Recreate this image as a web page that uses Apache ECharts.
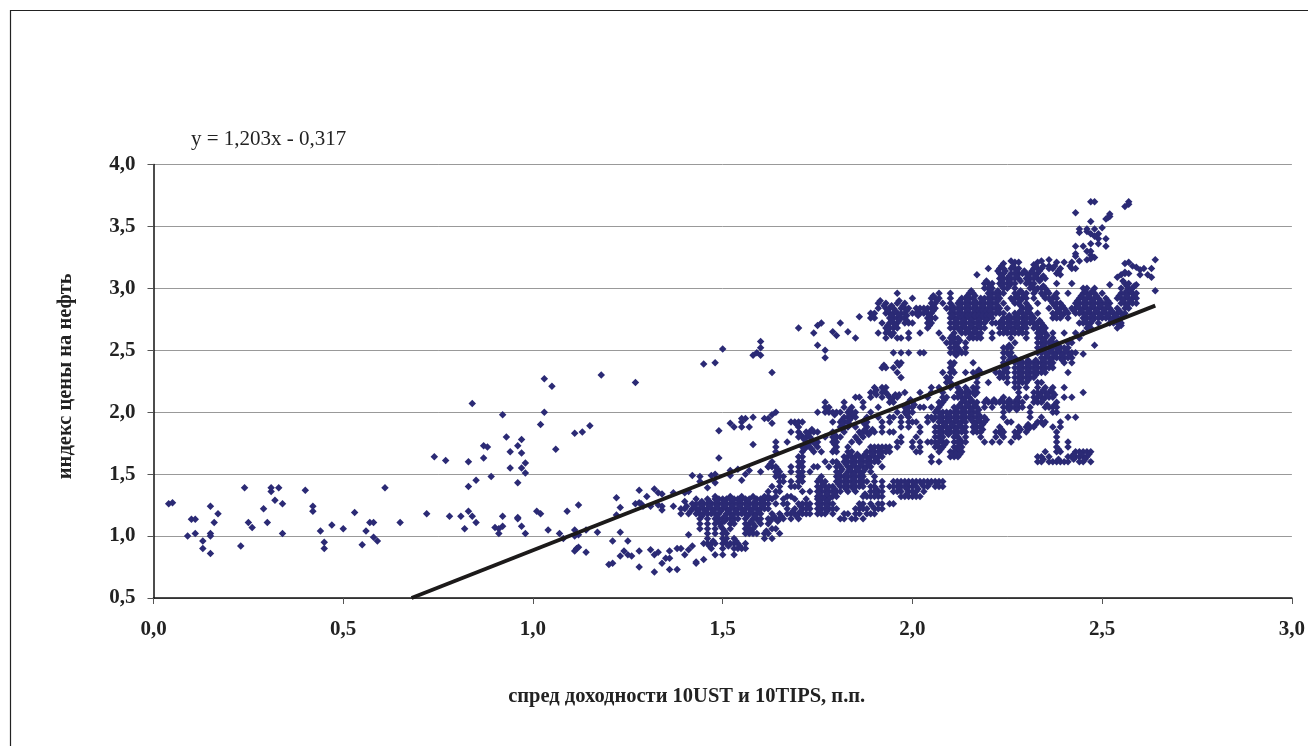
<!DOCTYPE HTML>
<html>

<head>
  <title>спред доходности</title>
  <meta charset="utf-8" />
  <style>
    html, body { margin: 0; padding: 0; background: #fff; }
  </style>
</head>

<body>
  <div id="main" style="width:1308px;height:746px;"></div>

  <script type="text/javascript" src="https://cdn.jsdelivr.net/npm/echarts@6/dist/echarts.min.js"></script>
  <script type="text/javascript">
    var yTicks = ['0,5', '1,0', '1,5', '2,0', '2,5', '3,0', '3,5', '4,0'];
    var xTicks = ['0,0', '0,5', '1,0', '1,5', '2,0', '2,5', '3,0'];
    var trendX = [0.68, 2.64];
    var trendY = [0.5, 2.86];

    // single points: [x, y]
    var sparseLeft = [
      [.04,1.26],[.05,1.27],[.09,1.0],[.10,1.135],[.11,1.135],[.11,1.02],[.13,.96],[.13,.90],[.15,1.24],[.15,1.02],
      [.15,1.0],[.15,.86],[.16,1.11],[.17,1.18],[.23,.92],[.24,1.39],[.25,1.11],[.26,1.07],[.29,1.22],[.30,1.11],
      [.31,1.39],[.31,1.36],[.32,1.29],[.33,1.39],[.34,1.26],[.34,1.02],[.40,1.37],[.42,1.24],[.42,1.2],[.44,1.04],
      [.45,.95],[.45,.90],[.47,1.09],[.50,1.06],[.53,1.19],[.55,.93],[.56,1.04],[.57,1.11],[.58,1.11],[.58,.99],
      [.59,.96],[.61,1.39],[.65,1.11],[.72,1.18],[.74,1.64],[.77,1.61],[.78,1.16],[.81,1.16],[.82,1.06],[.83,1.2],
      [.83,1.60],[.83,1.40],[.84,1.16],[.84,2.07],[.85,1.11],[.85,1.45],[.87,1.73],[.87,1.63],[.88,1.72],[.89,1.48],
      [.90,1.07],[.91,1.06],[.91,1.02],[.92,1.98],[.92,1.16],[.92,1.08],[.93,1.80],[.94,1.68],[.94,1.55],[.96,1.73],
      [.96,1.43],[.96,1.15],[.96,1.14],[.97,1.78],[.97,1.67],[.97,1.55],[.97,1.08],[.98,1.59],[.98,1.51],[.98,1.02],
      [1.01,1.2],[1.02,1.18],[1.02,1.90],[1.03,2.0],[1.03,2.27],[1.05,2.21],[1.04,1.05],[1.06,1.70],[1.07,1.02],[1.08,.98],
      [1.09,1.2],[1.11,1.83],[1.11,1.05],[1.11,1.0],[1.11,.88],[1.115,.9],[1.12,.91],[1.12,1.25],[1.12,1.01],[1.13,1.84],
      [1.14,1.05],[1.14,.87],[1.15,1.89],[1.17,1.03],[1.18,2.30],[1.27,2.24]
    ];
    var sparseLow = [
      [1.20,.77],[1.21,.78],[1.23,1.03],[1.21,.96],[1.23,.84],[1.24,.88],[1.25,.96],[1.25,.85],[1.26,.84],[1.28,.88],
      [1.28,.75],[1.31,.89],[1.32,.71],[1.32,.85],[1.33,.87],[1.34,.78],[1.35,.82],[1.36,.88],[1.36,.82],[1.36,.73],
      [1.38,.73],[1.38,.90],[1.39,.90],[1.40,.85],[1.41,1.01],[1.41,.89],[1.42,.92],[1.43,.79],[1.43,.78],[1.45,.81],
      [1.28,1.37],[1.32,1.38],[1.33,1.35],[1.34,1.34],[1.30,1.32],[1.22,1.31],[1.23,1.23],[1.22,1.17],[1.27,1.26],[1.28,1.27],
      [1.285,1.26],[1.29,1.24],[1.31,1.24],[1.33,1.25],[1.34,1.24],[1.34,1.21],[1.37,1.35],[1.37,1.24],[1.40,1.35],[1.41,1.36],[1.40,1.28]
    ];
    var sparseMiddle = [
      [1.49,1.85],[1.52,1.91],[1.53,1.88],[1.55,1.95],[1.56,1.95],[1.55,1.92],[1.55,1.88],[1.57,1.88],[1.58,1.96],[1.61,1.95],
      [1.62,1.95],[1.63,1.98],[1.64,2.0],[1.63,1.91],[1.58,1.74],[1.49,1.63],[1.42,1.49],[1.44,1.48],[1.44,1.44],[1.47,1.49],
      [1.48,1.50],[1.48,1.43],[1.46,1.39],[1.52,1.53],[1.52,1.49],[1.54,1.54],[1.56,1.50],[1.57,1.53],[1.55,1.45],[1.60,1.52],
      [1.62,1.56],[1.45,2.39],[1.48,2.40],[1.50,2.51],[1.58,2.46],[1.59,2.48],[1.60,2.46],[1.60,2.52],[1.60,2.57],[1.63,2.32],
      [1.70,2.68],[1.74,2.64],[1.75,2.70],[1.76,2.72],[1.75,2.54],[1.77,2.50],[1.77,2.44],[1.81,2.72],[1.79,2.65],[1.80,2.62],
      [1.83,2.65],[1.85,2.60],[1.86,2.77]
    ];
    var sparseTop = [
      [2.43,3.61],[2.47,3.70],[2.48,3.70],[2.51,3.56],[2.52,3.58],[2.52,3.6],[2.515,3.57],[2.56,3.66],[2.57,3.70],[2.57,3.68],
      [2.44,3.48],[2.44,3.45],[2.46,3.48],[2.46,3.46],[2.47,3.54],[2.48,3.48],[2.50,3.49],[2.47,3.44],[2.49,3.44],[2.48,3.42],
      [2.51,3.40],[2.49,3.40],[2.49,3.36],[2.47,3.36],[2.51,3.34],[2.43,3.34],[2.45,3.34],[2.43,3.28],[2.43,3.26],[2.46,3.30],
      [2.47,3.30],[2.47,3.27],[2.46,3.23],[2.48,3.25],[2.47,3.24],[2.44,3.22],[2.64,3.23],[2.56,3.20],[2.57,3.21],[2.58,3.18],
      [2.59,3.17],[2.60,3.15],[2.61,3.16],[2.62,3.11],[2.63,3.16],[2.63,3.09],[2.56,3.12],[2.54,3.09],[2.55,3.11],[2.56,3.13],
      [2.57,3.12],[2.60,3.11],[2.64,2.98],[2.59,3.03],[2.52,3.03],[2.48,2.54],[2.45,2.47],[2.54,2.68],[2.55,2.70],
      [2.24,3.20],[2.26,3.22],[2.27,3.21],[2.28,3.21],[2.32,3.19],[2.33,3.21],[2.34,3.22],[2.36,3.23],[2.36,3.18],[2.38,3.21],
      [2.40,3.21],[2.42,3.21],[2.20,3.16],[2.17,3.11],[2.39,3.11]
    ];

    // dense clouds, one row per level: [y, x, x, x ...]
    var upperCloud = [
      [3.16,2.23,2.24,2.26,2.27,2.28,2.32,2.33,2.34,2.36,2.37,2.39,2.42,2.43],
      [3.12,2.23,2.24,2.26,2.27,2.28,2.29,2.30,2.31,2.32,2.33,2.38],
      [3.08,2.23,2.24,2.25,2.26,2.27,2.28,2.30,2.31,2.32,2.33,2.34,2.35],
      [3.04,2.19,2.20,2.21,2.23,2.24,2.25,2.26,2.27,2.30,2.31,2.32,2.38,2.42,2.56,2.57],
      [3.00,2.19,2.20,2.21,2.24,2.25,2.27,2.31,2.32,2.33,2.34,2.35,2.45,2.46,2.48,2.55,2.57,2.58],
      [2.96,1.96,2.07,2.10,2.15,2.16,2.20,2.21,2.22,2.23,2.24,2.27,2.28,2.29,2.30,2.32,2.34,2.35,2.36,2.38,2.41,2.45,2.46,2.47,2.48,2.50,2.55,2.56,2.57,2.58,2.59],
      [2.92,2.00,2.05,2.06,2.07,2.10,2.13,2.14,2.15,2.16,2.18,2.19,2.20,2.21,2.22,2.23,2.26,2.27,2.28,2.29,2.30,2.32,2.35,2.36,2.37,2.38,2.44,2.45,2.46,2.47,2.48,2.49,2.51,2.54,2.55,2.56,2.57,2.58,2.59],
      [2.88,1.91,1.93,1.96,1.98,2.05,2.06,2.08,2.10,2.12,2.13,2.14,2.15,2.16,2.17,2.18,2.19,2.20,2.21,2.22,2.24,2.27,2.28,2.30,2.33,2.37,2.38,2.39,2.43,2.44,2.45,2.46,2.47,2.48,2.49,2.50,2.51,2.52,2.55,2.56,2.57,2.58,2.59],
      [2.84,1.91,1.93,1.94,1.95,1.97,1.98,1.99,2.01,2.02,2.03,2.04,2.05,2.06,2.09,2.10,2.11,2.12,2.13,2.14,2.15,2.16,2.17,2.18,2.19,2.20,2.21,2.22,2.23,2.25,2.29,2.30,2.31,2.36,2.38,2.39,2.40,2.42,2.43,2.44,2.45,2.46,2.47,2.48,2.49,2.50,2.51,2.52,2.54,2.56,2.57],
      [2.80,1.89,1.90,1.93,1.94,1.95,1.96,1.97,1.98,2.00,2.01,2.02,2.03,2.04,2.05,2.10,2.11,2.12,2.13,2.14,2.15,2.16,2.17,2.18,2.19,2.20,2.21,2.22,2.23,2.24,2.27,2.28,2.29,2.30,2.31,2.33,2.37,2.38,2.39,2.40,2.41,2.43,2.44,2.45,2.46,2.47,2.48,2.49,2.50,2.51,2.52,2.53,2.54,2.55,2.56],
      [2.76,1.89,1.90,1.94,1.95,1.96,1.97,1.98,2.04,2.05,2.06,2.10,2.11,2.12,2.13,2.14,2.15,2.16,2.17,2.18,2.19,2.20,2.21,2.24,2.25,2.26,2.27,2.28,2.29,2.30,2.31,2.32,2.37,2.38,2.39,2.41,2.45,2.46,2.47,2.48,2.49,2.50,2.51,2.52,2.53,2.54,2.55],
      [2.72,1.92,1.94,1.95,1.96,1.98,1.99,2.0,2.04,2.05,2.10,2.11,2.12,2.13,2.14,2.15,2.16,2.17,2.18,2.19,2.21,2.22,2.23,2.24,2.25,2.26,2.27,2.28,2.29,2.30,2.31,2.32,2.33,2.34,2.44,2.45,2.46,2.47,2.49,2.52,2.53,2.54,2.55],
      [2.68,1.93,1.94,1.95,1.96,2.04,2.10,2.11,2.12,2.13,2.14,2.15,2.16,2.17,2.18,2.19,2.23,2.24,2.25,2.26,2.27,2.28,2.29,2.30,2.32,2.33,2.34,2.35,2.46,2.47],
      [2.64,1.91,1.93,1.94,1.95,1.99,2.02,2.07,2.11,2.13,2.14,2.15,2.16,2.17,2.18,2.21,2.23,2.24,2.25,2.26,2.27,2.28,2.29,2.30,2.33,2.34,2.35,2.37,2.40,2.43,2.45],
      [2.60,1.93,1.96,1.97,1.99,2.08,2.10,2.11,2.12,2.15,2.16,2.17,2.18,2.21,2.26,2.30,2.33,2.34,2.35,2.37,2.44],
      [2.56,2.09,2.10,2.11,2.12,2.14,2.27,2.33,2.34,2.35,2.36,2.37,2.38,2.41,2.42],
      [2.52,2.10,2.11,2.12,2.14,2.24,2.25,2.26,2.33,2.34,2.35,2.36,2.37,2.38,2.39,2.40,2.41]
    ];
    var middleCloud = [
      [2.48,1.95,1.97,1.99,2.02,2.03,2.10,2.11,2.12,2.13,2.14,2.24,2.25,2.26,2.33,2.34,2.35,2.36,2.37,2.38,2.39,2.40,2.41,2.42,2.43],
      [2.44,2.24,2.26,2.27,2.34,2.35,2.36,2.37,2.38,2.39,2.40,2.41,2.42],
      [2.40,1.96,1.97,2.10,2.11,2.16,2.24,2.25,2.27,2.28,2.29,2.30,2.31,2.32,2.33,2.34,2.35,2.36,2.37,2.40,2.42],
      [2.36,1.92,1.93,1.95,2.10,2.24,2.25,2.27,2.28,2.29,2.30,2.31,2.32,2.33,2.34,2.35,2.36,2.37],
      [2.32,1.96,2.08,2.10,2.11,2.14,2.16,2.17,2.18,2.22,2.23,2.24,2.25,2.27,2.28,2.29,2.30,2.31,2.32,2.33,2.34,2.35,2.41],
      [2.28,1.97,2.09,2.10,2.17,2.23,2.24,2.25,2.27,2.28,2.29,2.30,2.31,2.32],
      [2.24,2.09,2.10,2.17,2.20,2.25,2.27,2.28,2.29,2.30,2.33,2.34],
      [2.20,1.90,1.92,1.93,2.05,2.07,2.10,2.12,2.14,2.16,2.17,2.27,2.28,2.30,2.33,2.35,2.37,2.40],
      [2.16,1.89,1.90,1.92,1.93,1.98,2.02,2.05,2.08,2.12,2.13,2.14,2.15,2.16,2.17,2.28,2.32,2.33,2.34,2.35,2.36,2.37,2.45],
      [2.12,1.85,1.86,1.89,1.92,1.94,1.95,1.96,2.04,2.08,2.09,2.11,2.12,2.13,2.14,2.15,2.24,2.28,2.30,2.32,2.33,2.34,2.35,2.36,2.37,2.40,2.42],
      [2.08,1.77,1.82,1.87,1.94,1.95,1.99,2.0,2.07,2.08,2.13,2.14,2.15,2.16,2.17,2.19,2.20,2.21,2.22,2.23,2.24,2.25,2.26,2.27,2.28,2.29,2.32,2.33,2.34,2.38],
      [2.04,1.77,1.78,1.82,1.84,1.87,1.91,1.98,1.99,2.0,2.02,2.03,2.05,2.07,2.11,2.12,2.13,2.14,2.15,2.16,2.17,2.19,2.21,2.24,2.25,2.26,2.27,2.28,2.29,2.31,2.35,2.36,2.37,2.38],
      [2.00,1.75,1.77,1.78,1.79,1.80,1.81,1.83,1.84,1.85,1.89,1.96,1.98,1.99,2.0,2.06,2.07,2.08,2.09,2.10,2.11,2.12,2.13,2.14,2.15,2.16,2.17,2.24,2.31,2.37,2.38],
      [1.96,1.82,1.83,1.84,1.85,1.88,1.91,1.94,1.95,1.97,1.99,2.04,2.05,2.06,2.07,2.08,2.09,2.10,2.11,2.12,2.13,2.14,2.15,2.16,2.17,2.18,2.19,2.24,2.31,2.34,2.41,2.43],
      [1.92,1.68,1.69,1.70,1.71,1.79,1.81,1.82,1.83,1.87,1.88,1.92,1.94,1.97,1.99,2.0,2.01,2.04,2.07,2.08,2.09,2.10,2.11,2.12,2.13,2.14,2.16,2.17,2.18,2.19,2.25,2.26,2.33,2.34,2.35,2.39],
      [1.88,1.70,1.81,1.82,1.83,1.85,1.88,1.92,1.97,1.99,2.02,2.06,2.07,2.08,2.09,2.10,2.11,2.12,2.13,2.14,2.16,2.17,2.18,2.23,2.28,2.30,2.31,2.32,2.37,2.39],
      [1.84,1.68,1.70,1.72,1.73,1.74,1.75,1.79,1.82,1.86,1.87,1.88,1.89,1.90,1.92,1.94,1.95,2.02,2.06,2.07,2.08,2.09,2.10,2.11,2.12,2.13,2.14,2.16,2.17,2.18,2.22,2.23,2.24,2.27,2.28,2.30,2.38],
      [1.80,1.70,1.71,1.72,1.73,1.77,1.79,1.80,1.81,1.85,1.87,1.97,2.01,2.06,2.07,2.08,2.11,2.12,2.14,2.18,2.22,2.24,2.27,2.28,2.38],
      [1.76,1.64,1.67,1.72,1.73,1.74,1.75,1.79,1.80,1.84,1.86,1.96,1.97,2.0,2.02,2.04,2.05,2.06,2.07,2.08,2.09,2.11,2.12,2.13,2.14,2.19,2.21,2.23,2.26,2.38,2.41],
      [1.72,1.64,1.71,1.72,1.73,1.75,1.80,1.83,1.89,1.90,1.91,1.92,1.93,1.94,1.96,2.0,2.02,2.06,2.07,2.08,2.11,2.12,2.13,2.38,2.41],
      [1.68,1.64,1.71,1.74,1.76,1.79,1.80,1.83,1.84,1.88,1.89,1.90,1.91,1.92,1.93,1.94,2.01,2.02,2.07,2.10,2.11,2.12,2.13,2.35,2.38,2.39,2.43,2.44,2.45,2.46,2.47],
      [1.64,1.70,1.71,1.82,1.83,1.84,1.85,1.86,1.87,1.88,1.89,1.90,1.91,1.92,2.05,2.10,2.11,2.12,2.33,2.34,2.36,2.41,2.42,2.43,2.44,2.45,2.46],
      [1.60,1.63,1.70,1.71,1.77,1.79,1.80,1.82,1.83,1.84,1.85,1.86,1.87,1.88,1.89,1.90,1.91,2.05,2.07,2.33,2.34,2.36,2.37,2.38,2.39,2.40,2.41,2.44,2.45,2.47],
      [1.56,1.62,1.63,1.64,1.68,1.70,1.71,1.74,1.75,1.78,1.80,1.81,1.83,1.84,1.85,1.86,1.87,1.88,1.89,1.92],
      [1.52,1.64,1.65,1.68,1.70,1.71,1.73,1.80,1.81,1.83,1.84,1.85,1.86,1.87,1.89]
    ];
    var lowerCloud = [
      [1.48,1.64,1.65,1.66,1.70,1.71,1.76,1.80,1.81,1.82,1.83,1.84,1.85,1.86,1.87,1.90],
      [1.44,1.65,1.66,1.68,1.70,1.71,1.75,1.76,1.77,1.80,1.81,1.82,1.83,1.84,1.85,1.86,1.87,1.88,1.90,1.92,1.95,1.96,1.97,1.98,1.99,2.0,2.01,2.02,2.03,2.04,2.05,2.06,2.07,2.08],
      [1.40,1.63,1.65,1.68,1.69,1.70,1.75,1.76,1.77,1.78,1.79,1.81,1.82,1.83,1.84,1.85,1.86,1.87,1.89,1.90,1.92,1.94,1.95,1.96,1.97,1.98,1.99,2.0,2.01,2.03,2.04,2.06,2.07,2.08],
      [1.36,1.62,1.64,1.65,1.71,1.73,1.75,1.76,1.77,1.78,1.79,1.80,1.81,1.83,1.85,1.89,1.90,1.91,1.92,1.95,1.96,1.97,1.99,2.0,2.01,2.03],
      [1.32,1.48,1.52,1.55,1.58,1.61,1.62,1.64,1.67,1.68,1.75,1.76,1.77,1.78,1.79,1.80,1.87,1.88,1.89,1.90,1.91,1.92,1.97,1.98,1.99,2.0,2.01,2.02],
      [1.30,1.43,1.46,1.48,1.49,1.50,1.51,1.52,1.53,1.54,1.55,1.56,1.57,1.59,1.60,1.61,1.62,1.63,1.66,1.69,1.72,1.75,1.76,1.77,1.78],
      [1.26,1.42,1.43,1.44,1.45,1.46,1.47,1.48,1.49,1.50,1.51,1.52,1.53,1.54,1.55,1.56,1.57,1.58,1.59,1.60,1.61,1.62,1.64,1.66,1.67,1.70,1.71,1.72,1.73,1.75,1.76,1.77,1.78,1.79,1.86,1.87,1.89,1.91,1.92,1.94,1.95],
      [1.22,1.39,1.40,1.42,1.43,1.44,1.45,1.46,1.47,1.48,1.49,1.50,1.51,1.52,1.53,1.54,1.55,1.56,1.57,1.58,1.59,1.60,1.61,1.62,1.67,1.69,1.71,1.72,1.73,1.75,1.76,1.77,1.78,1.79,1.80,1.85,1.86,1.87,1.88,1.90,1.91,1.92],
      [1.18,1.39,1.41,1.43,1.44,1.45,1.46,1.47,1.48,1.49,1.51,1.52,1.53,1.54,1.55,1.56,1.57,1.58,1.59,1.60,1.63,1.65,1.67,1.68,1.69,1.70,1.71,1.72,1.73,1.75,1.76,1.77,1.79,1.82,1.83,1.85,1.86,1.88,1.89,1.90],
      [1.14,1.44,1.46,1.48,1.49,1.50,1.51,1.52,1.53,1.54,1.56,1.58,1.59,1.60,1.62,1.63,1.64,1.65,1.66,1.68,1.70,1.81,1.82,1.84,1.85,1.87],
      [1.10,1.44,1.46,1.48,1.495,1.52,1.53,1.56,1.57,1.58,1.60,1.62],
      [1.06,1.44,1.46,1.48,1.50,1.52,1.56,1.57,1.58,1.63,1.64],
      [1.02,1.46,1.48,1.50,1.51,1.56,1.57,1.58,1.59,1.61,1.62,1.65],
      [.98,1.46,1.50,1.51,1.53,1.61,1.63],
      [.94,1.45,1.46,1.47,1.48,1.50,1.51,1.52,1.53,1.54,1.56],
      [.90,1.47,1.50,1.53,1.54,1.55,1.56],
      [.85,1.48,1.50,1.53]
    ];
    // in-between levels of the same clouds
    var fillCloud = [
      [3.18,2.235,2.265,2.325,2.345,2.375,2.415],
      [3.14,2.225,2.245,2.275,2.295,2.315,2.335,2.385],
      [3.10,2.235,2.255,2.275,2.305,2.325,2.345],
      [3.06,2.195,2.235,2.255,2.285,2.305,2.335,2.555],
      [3.02,2.205,2.235,2.255,2.315,2.345,2.565,2.585],
      [2.98,2.155,2.205,2.225,2.285,2.325,2.355,2.455,2.475,2.565,2.575],
      [2.94,2.055,2.145,2.165,2.205,2.225,2.275,2.295,2.345,2.375,2.445,2.465,2.485,2.545,2.565,2.585],
      [2.90,1.915,1.965,2.065,2.125,2.145,2.165,2.185,2.205,2.225,2.265,2.285,2.365,2.435,2.455,2.475,2.495,2.515,2.555,2.575],
      [2.86,1.925,1.945,1.975,2.055,2.105,2.125,2.145,2.165,2.185,2.205,2.225,2.285,2.305,2.375,2.395,2.435,2.455,2.475,2.495,2.515,2.565],
      [2.82,1.935,1.955,1.985,2.015,2.035,2.055,2.105,2.125,2.145,2.165,2.175,2.185,2.195,2.205,2.225,2.285,2.305,2.385,2.405,2.425,2.445,2.465,2.485,2.505,2.525,2.545],
      [2.78,1.895,1.945,1.965,1.985,2.015,2.045,2.105,2.125,2.135,2.145,2.155,2.165,2.175,2.185,2.195,2.205,2.255,2.275,2.295,2.315,2.375,2.395,2.455,2.475,2.495,2.515,2.535,2.555],
      [2.74,1.945,1.965,1.985,2.045,2.115,2.135,2.155,2.175,2.195,2.235,2.255,2.275,2.295,2.315,2.335,2.455,2.475,2.525,2.545],
      [2.70,1.935,1.955,2.045,2.115,2.135,2.155,2.175,2.235,2.255,2.275,2.295,2.325,2.345,2.465],
      [2.66,1.935,2.125,2.145,2.165,2.245,2.265,2.285,2.335,2.345],
      [2.62,1.945,2.105,2.155,2.175,2.335,2.355],
      [2.58,2.105,2.125,2.345,2.365,2.415],
      [2.54,2.115,2.255,2.345,2.365,2.385],
      [2.50,2.115,2.125,2.345,2.365,2.385,2.405],
      [2.46,2.115,2.255,2.355,2.375,2.395,2.415],
      [2.42,2.255,2.285,2.305,2.325,2.345,2.365,2.395],
      [2.38,1.925,1.965,2.105,2.245,2.285,2.305,2.325,2.345,2.365],
      [2.34,2.105,2.175,2.245,2.285,2.305,2.325,2.345],
      [2.30,2.235,2.285,2.305,2.325],
      [2.26,2.095,2.285,2.305],
      [2.18,1.905,1.925,2.125,2.145,2.165,2.345,2.365],
      [2.14,1.905,1.935,1.955,1.965,2.125,2.145,2.165,2.335,2.355,2.375],
      [2.10,1.945,1.995,2.085,2.135,2.155,2.195,2.215,2.235,2.255,2.275,2.325,2.345],
      [2.06,1.985,2.005,2.075,2.125,2.145,2.165,2.255,2.275,2.355,2.375],
      [2.02,1.775,1.835,1.985,2.065,2.115,2.135,2.155,2.175,2.255,2.275],
      [1.98,1.795,1.835,1.845,1.985,2.075,2.095,2.115,2.135,2.155,2.175],
      [1.94,1.815,1.835,1.875,2.055,2.075,2.095,2.115,2.135,2.155,2.175,2.195],
      [1.90,1.695,1.815,1.835,1.875,2.085,2.105,2.125,2.165,2.185,2.305,2.325,2.345],
      [1.86,1.735,1.815,1.875,1.895,2.075,2.095,2.115,2.135,2.165,2.185,2.235,2.285,2.305],
      [1.82,1.705,1.725,1.795,1.865,1.885,2.075,2.095,2.115,2.235,2.275],
      [1.78,1.715,1.735,1.795,1.855,2.075,2.125],
      [1.74,1.725,1.745,1.795,2.065,2.085,2.125],
      [1.70,1.715,1.735,1.795,1.895,1.915,1.935,2.075,2.115,2.125,2.385],
      [1.66,1.835,1.855,1.875,1.895,1.915,2.105,2.115,2.125,2.425,2.445,2.465],
      [1.62,1.825,1.845,1.865,1.885,1.905,2.345,2.385,2.425,2.455],
      [1.58,1.625,1.705,1.805,1.825,1.845,1.865,1.885],
      [1.54,1.645,1.815,1.835,1.855,1.875],
      [1.50,1.645,1.705,1.805,1.825,1.845,1.865],
      [1.46,1.705,1.755,1.805,1.825,1.845,1.865],
      [1.42,1.765,1.805,1.825,1.845,1.865,1.965,1.985,2.005,2.025,2.045,2.065],
      [1.38,1.755,1.775,1.795,1.825,1.845,1.905,1.965,1.985,2.015],
      [1.34,1.755,1.775,1.795,1.875,1.905,1.985,2.005],
      [1.28,1.445,1.465,1.485,1.505,1.525,1.545,1.565,1.585,1.605,1.755,1.775],
      [1.24,1.405,1.425,1.445,1.465,1.485,1.505,1.525,1.545,1.565,1.585,1.605,1.705,1.725,1.755,1.775,1.865,1.895],
      [1.20,1.415,1.435,1.455,1.475,1.495,1.515,1.535,1.555,1.575,1.595,1.685,1.705,1.755,1.775],
      [1.16,1.445,1.485,1.505,1.525,1.565,1.585,1.635,1.655,1.695],
      [1.12,1.485,1.505,1.525,1.575,1.595,1.625,1.645],
      [1.08,1.495,1.565,1.585],
      [1.04,1.505,1.565,1.575,1.615],
      [.96,1.475,1.505,1.535],
      [.92,1.465,1.515,1.545]
    ];

    // rows hold y first, then the x values on that level
    function fromRows(rows) {
      var out = [];
      for (var i = 0; i < rows.length; i++) {
        for (var j = 1; j < rows[i].length; j++) {
          out.push([rows[i][j], rows[i][0]]);
        }
      }
      return out;
    }

    var points = sparseLeft.concat(sparseLow, sparseMiddle, sparseTop,
      fromRows(upperCloud), fromRows(middleCloud), fromRows(lowerCloud), fromRows(fillCloud));
    var trendPoints = [[trendX[0], trendY[0]], [trendX[1], trendY[1]]];

    var serif = '"Liberation Serif", serif';

    var myChart = echarts.init(document.getElementById('main'), null, { renderer: 'canvas' });
    myChart.setOption({
      backgroundColor: '#fff',
      animation: false,
      title: {
        text: 'y = 1,203x - 0,317',
        left: 186,
        top: 124,
        textStyle: { fontFamily: serif, fontSize: 21, fontWeight: 'normal', color: '#222' }
      },
      grid: { left: 153.5, top: 164.5, width: 1139.5, height: 433.5 },
      xAxis: {
        type: 'value',
        min: 0,
        max: 3,
        interval: 0.5,
        name: 'спред доходности 10UST и 10TIPS, п.п.',
        nameLocation: 'middle',
        nameGap: 88,
        nameTextStyle: { fontFamily: serif, fontSize: 20.5, fontWeight: 'bold', color: '#222', padding: [0, 72, 0, 0] },
        axisLine: { show: true, onZero: false, lineStyle: { color: '#111', width: 1.5 } },
        axisTick: { show: true, length: 6, lineStyle: { color: '#555' } },
        axisLabel: {
          margin: 21,
          fontFamily: serif,
          fontSize: 21,
          fontWeight: 'bold',
          color: '#222',
          hideOverlap: false,
          formatter: function (v) { return xTicks[Math.round(v / 0.5)]; }
        },
        splitLine: { show: false }
      },
      yAxis: {
        type: 'value',
        min: 0.5,
        max: 4,
        interval: 0.5,
        name: 'индекс цены на нефть',
        nameLocation: 'middle',
        nameGap: 77,
        nameTextStyle: { fontFamily: serif, fontSize: 20.5, fontWeight: 'bold', color: '#222', padding: [0, 0, 0, 10] },
        axisLine: { show: true, onZero: false, lineStyle: { color: '#111', width: 1.5 } },
        axisTick: { show: true, length: 6, lineStyle: { color: '#555' } },
        axisLabel: {
          margin: 18,
          fontFamily: serif,
          fontSize: 21,
          fontWeight: 'bold',
          color: '#222',
          padding: [3, 0, 0, 0],
          formatter: function (v) { return yTicks[Math.round((v - 0.5) / 0.5)]; }
        },
        splitLine: { show: true, lineStyle: { color: '#999', width: 1 } }
      },
      series: [
        {
          type: 'scatter',
          symbol: 'diamond',
          symbolSize: 7.5,
          itemStyle: { color: '#2b2a75', opacity: 1 },
          data: points,
          z: 3
        },
        {
          type: 'line',
          data: trendPoints,
          symbol: 'none',
          lineStyle: { color: '#1c1a1a', width: 4 },
          z: 4
        }
      ],
      graphic: [
        {
          type: 'polyline',
          silent: true,
          shape: { points: [[10.5, 746], [10.5, 10.5], [1308, 10.5]] },
          style: { stroke: '#222', lineWidth: 1.2, fill: null }
        }
      ]
    });
  </script>
</body>

</html>
